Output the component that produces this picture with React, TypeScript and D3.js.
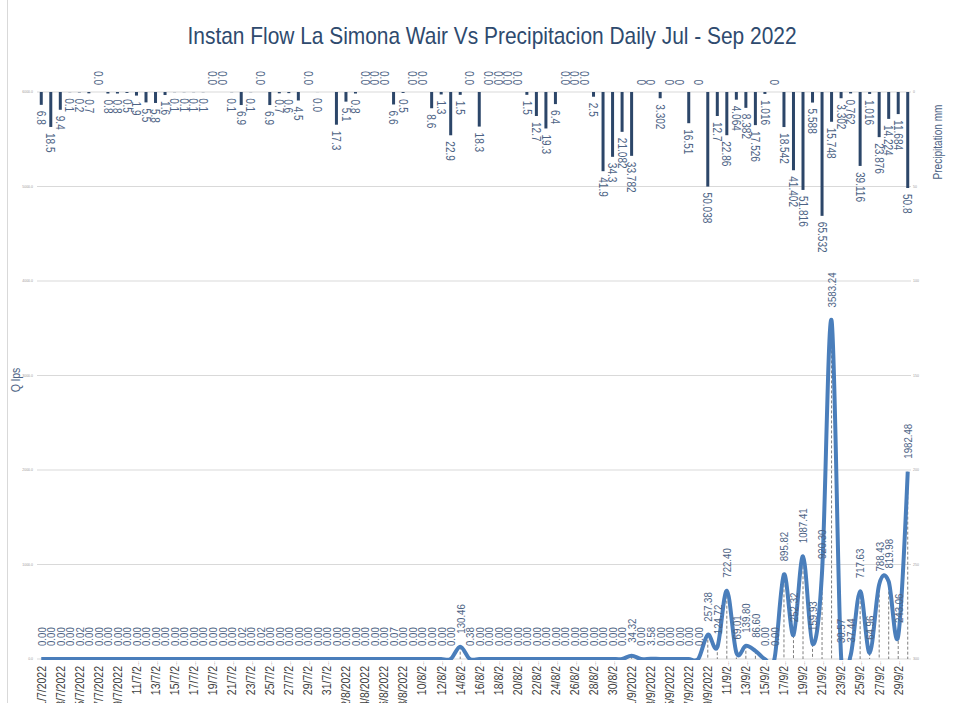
import React from "react";
import * as d3 from "d3";

const W = 965;
const H = 703;

// Categories: daily dates 1/7/2022 .. 30/9/2022
const days: Date[] = d3.timeDay.range(new Date(2022, 6, 1), new Date(2022, 9, 1));

// Daily precipitation (mm); null = no record
const precipitation: (number | null)[] = [
  6.8, 18.5, 9.4, 0.1, 0.2, 0.7, 0, 0.8, 0.8, 0.5,
  1.9, 5.5, 5.8, 1.6, 0.1, 0.1, 0.1, 0.1, 0, 0,
  0.1, 6.9, 0.1, 0, 6.9, 0.7, 0.6, 4.5, 0, 0.04,
  null, 17.3, 5.1, 0.8, 0, 0, 0, 6.6, 0.5, 0,
  0, 8.6, 1.3, 22.9, 1.5, 0, 18.3, 0, 0, 0,
  0, 1.5, 12.7, 19.3, 6.4, 0, 0, 0, 2.5, 41.9,
  34.3, 21.082, 33.782, 0, 0, 3.302, 0, 0, 16.51, 0,
  50.038, 12.7, 22.86, 4.064, 8.382, 17.526, 1.016, 0, 18.542, 41.402,
  51.816, 5.588, 65.532, 15.748, 3.302, 0.762, 39.116, 1.016, 23.876, 14.224,
  11.684, 50.8,
];

// Instantaneous flow (lps)
const flow: number[] = [
  0, 0, 0, 0, 0.02, 0, 0, 0, 0, 0,
  0, 0, 0, 0, 0, 0, 0, 0, 0, 0,
  0, 0.02, 0, 0.02, 0, 0, 0, 0, 0, 0,
  0, 0, 0, 0, 0, 0, 0, 0.07, 0, 0,
  0, 0, 0, 0, 130.46, 0.38, 0, 0, 0, 0,
  0, 0, 0, 0, 0, 0, 0, 0, 0, 0,
  0, 0, 34.32, 0, 3.58, 0, 0, 0, 0, 0,
  257.38, 124.72, 722.4, 69.01, 139.8, 86.6, 0, 0, 895.82, 252.32,
  1087.41, 159.93, 920.3, 3583.24, 30.57, 37.44, 717.63, 64.96, 788.43, 819.98,
  243.06, 1982.48,
];

const flowTicks: number[] = [0, 1000, 2000, 3000, 4000, 5000, 6000];
const precipTicks: number[] = [0, 50, 100, 150, 200, 250, 300];

const TITLE = "Instan Flow La Simona Wair Vs Precipitacion Daily Jul - Sep 2022";
const FONT = "'Liberation Sans', Arial, sans-serif";
const SQ = 0.84; // horizontal compression to mimic a narrow face
const SLATE = "#4d6385";
const BAR = "#2c4669";
const LINE = "#4a7ebb";
const GRID = "#d9d9d9";

export default function App() {
  const idx = days.map((_, i) => i);
  const x = d3.scaleBand<number>().domain(idx).range([36.5, 912.5]).padding(0);
  const cx = (i: number) => (x(i) as number) + x.bandwidth() / 2;
  const yQ = d3.scaleLinear().domain([0, 6000]).range([659, 92]);
  const yP = d3.scaleLinear().domain([0, 300]).range([92, 659]);

  const line = d3
    .line<number>()
    .x((_, i) => cx(i))
    .y((v) => yQ(v))
    .curve(d3.curveCatmullRom.alpha(0));

  const fmtP = (v: number, i: number) => (i < 61 ? v.toFixed(1) : String(v));
  const fmtQ = d3.format(".2f");

  return (
    <svg
      width={W}
      height={H}
      style={{ position: "absolute", left: 0, top: 0, background: "#fff" }}
      fontFamily={FONT}
    >
      <defs>
        <clipPath id="plotclip">
          <rect x={0} y={0} width={W} height={660} />
        </clipPath>
      </defs>
      <rect x={0} y={0} width={W} height={H} fill="#fff" />
      <line x1={7.5} x2={7.5} y1={0} y2={H} stroke={GRID} strokeWidth={1} />

      {/* title */}
      <text
        x={492}
        y={44}
        textAnchor="middle"
        fontSize={24}
        fill="#2e4a6e"
        textLength={609}
        lengthAdjust="spacingAndGlyphs"
      >
        {TITLE}
      </text>

      {/* gridlines */}
      {flowTicks.map((t) => (
        <g key={"g" + t}>
          <line x1={37} x2={911} y1={yQ(t)} y2={yQ(t)} stroke={GRID} strokeWidth={1.2} />
          <text x={33} y={yQ(t) + 1} textAnchor="end" fontSize={3.5} fill="#9a9a9a">
            {t.toFixed(1)}
          </text>
        </g>
      ))}
      {precipTicks.map((t) => (
        <text key={"p" + t} x={913} y={yP(t) + 1} fontSize={3.5} fill="#9a9a9a">
          {t}
        </text>
      ))}

      {/* axis titles */}
      <text
        transform={`translate(20,380) rotate(-90) scale(${SQ},1)`}
        textAnchor="middle"
        fontSize={12.5}
        fill={SLATE}
      >
        Q lps
      </text>
      <text
        transform={`translate(942,142) rotate(-90) scale(${SQ},1)`}
        textAnchor="middle"
        fontSize={12}
        fill={SLATE}
      >
        Precipitation mm
      </text>

      {/* precipitation bars */}
      {precipitation.map((v, i) =>
        v === null ? null : (
          <rect
            key={"b" + i}
            x={cx(i) - 1.5}
            y={yP(0)}
            width={3}
            height={Math.max(0, yP(v) - yP(0))}
            fill={BAR}
          />
        )
      )}
      {precipitation.map((v, i) => {
        if (v === null) return null;
        const zero = v === 0;
        const yy = zero ? yP(0) - 7 : yP(v) + 6;
        return (
          <text
            key={"pl" + i}
            transform={`translate(${cx(i)},${yy}) rotate(90) scale(${SQ},1)`}
            textAnchor={zero ? "end" : "start"}
            dominantBaseline="central"
            fontSize={12}
            fill={SLATE}
          >
            {fmtP(v, i)}
          </text>
        );
      })}

      {/* drop lines */}
      {flow.map((v, i) => (
        <line
          key={"d" + i}
          x1={cx(i)}
          x2={cx(i)}
          y1={yQ(v)}
          y2={yQ(0)}
          stroke="#7f7f7f"
          strokeWidth={1}
          strokeDasharray="3,2"
        />
      ))}

      {/* flow line */}
      <path
        d={line(flow) || ""}
        fill="none"
        stroke={LINE}
        strokeWidth={4}
        strokeLinejoin="round"
        clipPath="url(#plotclip)"
      />

      {/* flow labels */}
      {flow.map((v, i) => (
        <text
          key={"fl" + i}
          transform={`translate(${cx(i)},${yQ(v) - 13}) rotate(-90) scale(${SQ},1)`}
          textAnchor="start"
          dominantBaseline="central"
          fontSize={11.5}
          fill={SLATE}
        >
          {fmtQ(v)}
        </text>
      ))}

      {/* x axis labels (every other day; two-digit days truncated as in the original) */}
      {days.map((d, i) => {
        if (i % 2 !== 0) return null;
        const day = d.getDate();
        const m = d.getMonth() + 1;
        const full = day < 10;
        return (
          <text
            key={"x" + i}
            transform={`translate(${cx(i)},${full ? 666 : 661}) rotate(-90) scale(${SQ},1)`}
            textAnchor="end"
            dominantBaseline="central"
            fontSize={12.5}
            fill="#404040"
          >
            {full ? (
              `${day}/${m}/2022`
            ) : (
              <>
                {`${day}/${m}/2`}
                <tspan fontSize={6}>{"\u2026"}</tspan>
              </>
            )}
          </text>
        );
      })}
    </svg>
  );
}
